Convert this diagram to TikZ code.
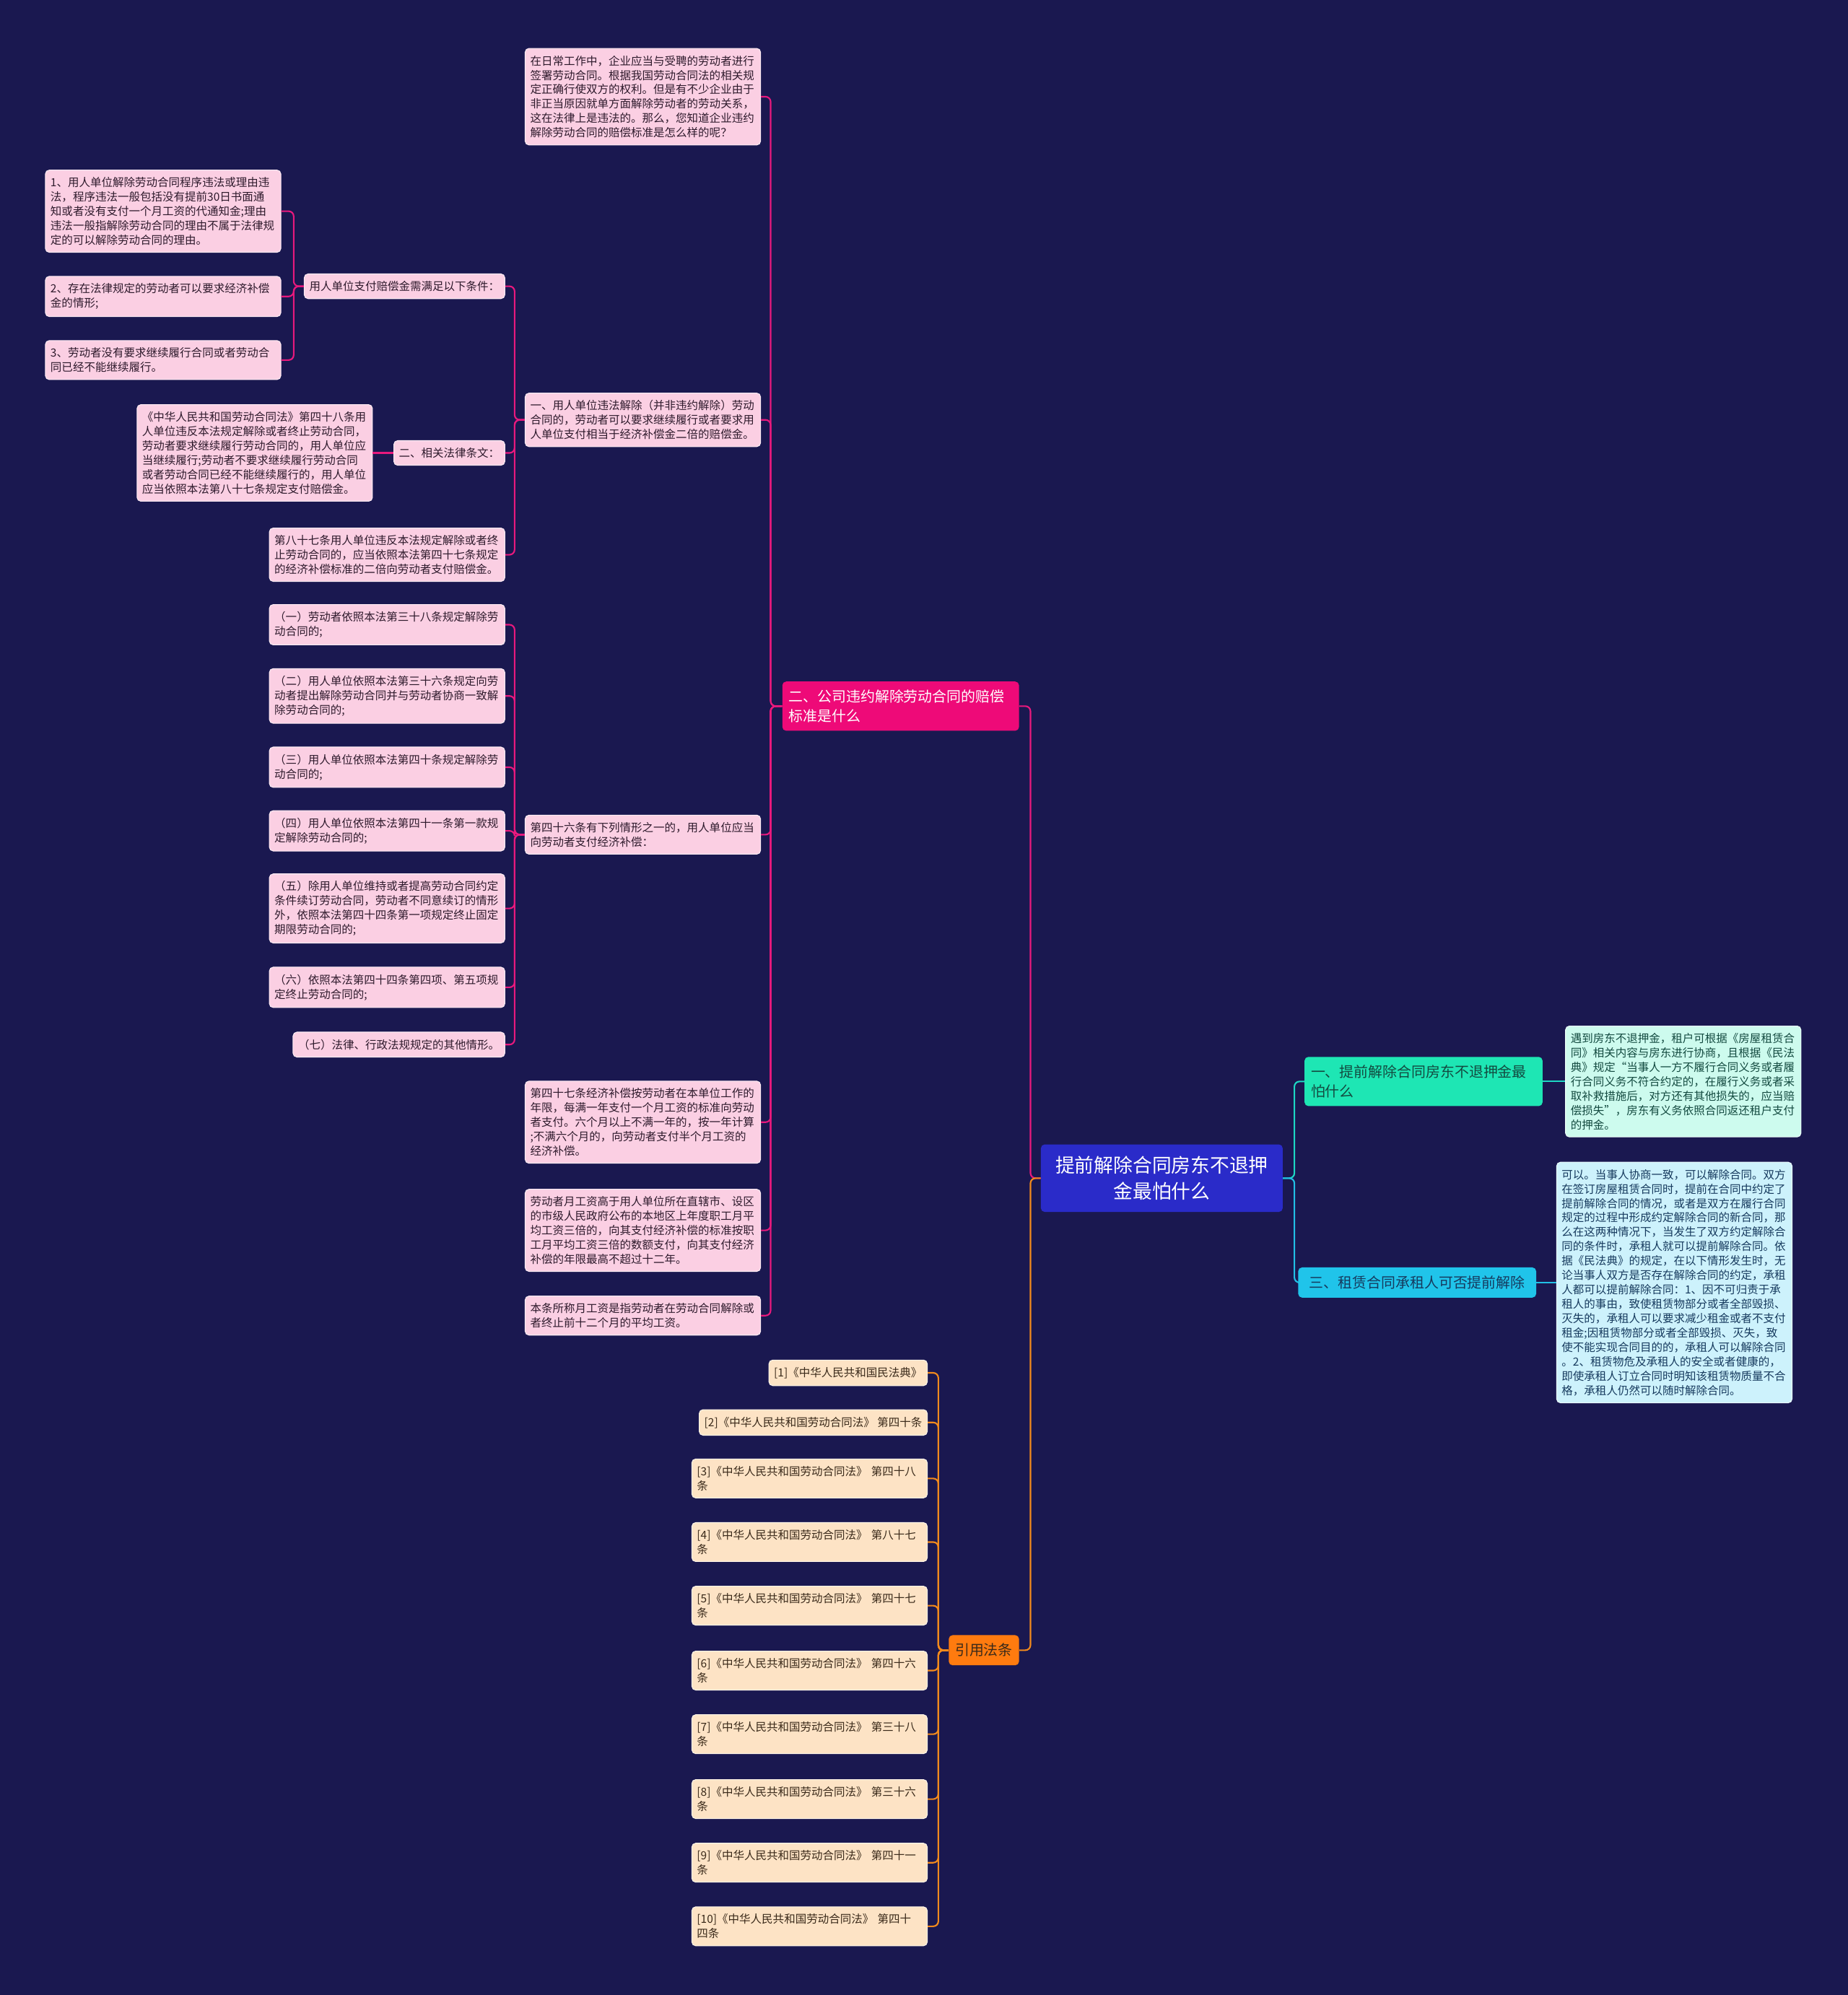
\documentclass[tikz,border=0pt]{standalone}
\usepackage{fontspec}
\setmainfont{Noto Sans CJK SC}
\usepackage{tikz}
\usetikzlibrary{calc}
\definecolor{mmNavy}{HTML}{1A1850}
\definecolor{mmRoot}{HTML}{2A2BC9}
\definecolor{mmPink}{HTML}{EE0A78}
\definecolor{mmPinkLn}{HTML}{E8197D}
\definecolor{mmPinkLeaf}{HTML}{FBCFE3}
\definecolor{mmPinkText}{HTML}{2E1A2C}
\definecolor{mmTeal}{HTML}{1EE6B4}
\definecolor{mmTealLn}{HTML}{1DD8C4}
\definecolor{mmTealLeaf}{HTML}{CDFBEE}
\definecolor{mmTealText}{HTML}{134A40}
\definecolor{mmCyan}{HTML}{20C4EA}
\definecolor{mmCyanLn}{HTML}{22C0E6}
\definecolor{mmCyanLeaf}{HTML}{CDF2FC}
\definecolor{mmCyanText}{HTML}{163A5E}
\definecolor{mmOrange}{HTML}{FF7B0F}
\definecolor{mmOrangeLn}{HTML}{F28A1C}
\definecolor{mmPeach}{HTML}{FDE3C5}
\definecolor{mmPeachText}{HTML}{3A2A1A}

\tikzset{
  box/.style={rounded corners=3pt, align=left, inner xsep=4pt, inner ysep=5.6pt,
              font=\fontsize{8.8}{11.3}\selectfont},
  wide/.style={text width=177pt},
  pinkleaf/.style={box, fill=mmPinkLeaf, draw=white!60!mmPinkLeaf, line width=0.6pt, text=mmPinkText},
  tealleaf/.style={box, fill=mmTealLeaf, draw=white!60!mmTealLeaf, line width=0.6pt, text=mmTealText},
  cyanleaf/.style={box, fill=mmCyanLeaf, draw=white!60!mmCyanLeaf, line width=0.6pt, text=mmCyanText},
  citeleaf/.style={box, fill=mmPeach, draw=white!60!mmPeach, line width=0.6pt, text=mmPeachText},
  topic/.style={rounded corners=3pt, align=left, inner xsep=5pt, inner ysep=6.6pt,
                font=\fontsize{11.3}{15}\selectfont},
  pinkln/.style={draw=mmPinkLn, line width=1.2pt, rounded corners=4pt},
  tealln/.style={draw=mmTealLn, line width=1.2pt, rounded corners=4pt},
  cyanln/.style={draw=mmCyanLn, line width=1.2pt, rounded corners=4pt},
  orangeln/.style={draw=mmOrangeLn, line width=1.2pt, rounded corners=4pt}
}

\begin{document}
\begin{tikzpicture}[x=1pt, y=-1pt]
  % 背景
  \fill[mmNavy] (0,0) rectangle (1452,1568);
  % 根节点
  \node[rounded corners=3pt, fill=mmRoot, text=white, align=center, minimum width=190pt,
        inner ysep=9.5pt, font=\fontsize{15.2}{20}\selectfont] (root) at (913,926)
        {提前解除合同房东不退押\\金最怕什么};
  % 一级主题
  \node[topic, fill=mmPink, text=white, text width=176pt, anchor=east] (pay) at (801,555)
        {二、公司违约解除劳动合同的赔偿\\标准是什么};
  \node[topic, fill=mmOrange, text=mmPeachText, anchor=east] (cite) at (801,1297) {引用法条};
  \node[topic, fill=mmTeal, text=mmTealText, text width=177pt, anchor=west] (deposit) at (1025,850)
        {一、提前解除合同房东不退押金最\\怕什么};
  \node[topic, fill=mmCyan, text=mmCyanText, minimum width=187pt, align=center, anchor=west] (early) at (1020,1008)
        {三、租赁合同承租人可否提前解除};
  % 右侧叶子
  \node[tealleaf, wide, anchor=west] (depnote) at (1230,850)
        {遇到房东不退押金，租户可根据《房屋租赁合\\同》相关内容与房东进行协商，且根据《民法\\典》规定“当事人一方不履行合同义务或者履\\行合同义务不符合约定的，在履行义务或者采\\取补救措施后，对方还有其他损失的，应当赔\\偿损失”，房东有义务依照合同返还租户支付\\的押金。};
  \node[cyanleaf, wide, anchor=west] (earlynote) at (1223,1008)
        {可以。当事人协商一致，可以解除合同。双方\\在签订房屋租赁合同时，提前在合同中约定了\\提前解除合同的情况，或者是双方在履行合同\\规定的过程中形成约定解除合同的新合同，那\\么在这两种情况下，当发生了双方约定解除合\\同的条件时，承租人就可以提前解除合同。依\\据《民法典》的规定，在以下情形发生时，无\\论当事人双方是否存在解除合同的约定，承租\\人都可以提前解除合同：1、因不可归责于承\\租人的事由，致使租赁物部分或者全部毁损、\\灭失的，承租人可以要求减少租金或者不支付\\租金;因租赁物部分或者全部毁损、灭失，致\\使不能实现合同目的的，承租人可以解除合同\\。2、租赁物危及承租人的安全或者健康的，\\即使承租人订立合同时明知该租赁物质量不合\\格，承租人仍然可以随时解除合同。};
  % 二级节点
  \node[pinkleaf, wide, anchor=east] (intro) at (598,76)
        {在日常工作中，企业应当与受聘的劳动者进行\\签署劳动合同。根据我国劳动合同法的相关规\\定正确行使双方的权利。但是有不少企业由于\\非正当原因就单方面解除劳动者的劳动关系，\\这在法律上是违法的。那么，您知道企业违约\\解除劳动合同的赔偿标准是怎么样的呢？};
  \node[pinkleaf, wide, anchor=east] (illegal) at (598,330)
        {一、用人单位违法解除（并非违约解除）劳动\\合同的，劳动者可以要求继续履行或者要求用\\人单位支付相当于经济补偿金二倍的赔偿金。};
  \node[pinkleaf, wide, anchor=east] (art46) at (598,656)
        {第四十六条有下列情形之一的，用人单位应当\\向劳动者支付经济补偿：};
  \node[pinkleaf, wide, anchor=east] (art47) at (598,882)
        {第四十七条经济补偿按劳动者在本单位工作的\\年限，每满一年支付一个月工资的标准向劳动\\者支付。六个月以上不满一年的，按一年计算\\;不满六个月的，向劳动者支付半个月工资的\\经济补偿。};
  \node[pinkleaf, wide, anchor=east] (wagecap) at (598,967)
        {劳动者月工资高于用人单位所在直辖市、设区\\的市级人民政府公布的本地区上年度职工月平\\均工资三倍的，向其支付经济补偿的标准按职\\工月平均工资三倍的数额支付，向其支付经济\\补偿的年限最高不超过十二年。};
  \node[pinkleaf, wide, anchor=east] (wagedef) at (598,1034)
        {本条所称月工资是指劳动者在劳动合同解除或\\者终止前十二个月的平均工资。};
  % 三级节点
  \node[pinkleaf, anchor=east] (cond) at (397,225) {用人单位支付赔偿金需满足以下条件：};
  \node[pinkleaf, anchor=east] (lawhd) at (397,356) {二、相关法律条文：};
  \node[pinkleaf, wide, anchor=east] (art87) at (397,436)
        {第八十七条用人单位违反本法规定解除或者终\\止劳动合同的，应当依照本法第四十七条规定\\的经济补偿标准的二倍向劳动者支付赔偿金。};
  \node[pinkleaf, wide, anchor=east] (cond1) at (221,166)
        {1、用人单位解除劳动合同程序违法或理由违\\法，程序违法一般包括没有提前30日书面通\\知或者没有支付一个月工资的代通知金;理由\\违法一般指解除劳动合同的理由不属于法律规\\定的可以解除劳动合同的理由。};
  \node[pinkleaf, wide, anchor=east] (cond2) at (221,233)
        {2、存在法律规定的劳动者可以要求经济补偿\\金的情形;};
  \node[pinkleaf, wide, anchor=east] (cond3) at (221,283)
        {3、劳动者没有要求继续履行合同或者劳动合\\同已经不能继续履行。};
  \node[pinkleaf, wide, anchor=east] (art48) at (293,356)
        {《中华人民共和国劳动合同法》第四十八条用\\人单位违反本法规定解除或者终止劳动合同，\\劳动者要求继续履行劳动合同的，用人单位应\\当继续履行;劳动者不要求继续履行劳动合同\\或者劳动合同已经不能继续履行的，用人单位\\应当依照本法第八十七条规定支付赔偿金。};
  \node[pinkleaf, wide, anchor=east] (case1) at (397,491)
        {（一）劳动者依照本法第三十八条规定解除劳\\动合同的;};
  \node[pinkleaf, wide, anchor=east] (case2) at (397,547)
        {（二）用人单位依照本法第三十六条规定向劳\\动者提出解除劳动合同并与劳动者协商一致解\\除劳动合同的;};
  \node[pinkleaf, wide, anchor=east] (case3) at (397,603)
        {（三）用人单位依照本法第四十条规定解除劳\\动合同的;};
  \node[pinkleaf, wide, anchor=east] (case4) at (397,653)
        {（四）用人单位依照本法第四十一条第一款规\\定解除劳动合同的;};
  \node[pinkleaf, wide, anchor=east] (case5) at (397,714)
        {（五）除用人单位维持或者提高劳动合同约定\\条件续订劳动合同，劳动者不同意续订的情形\\外，依照本法第四十四条第一项规定终止固定\\期限劳动合同的;};
  \node[pinkleaf, wide, anchor=east] (case6) at (397,776)
        {（六）依照本法第四十四条第四项、第五项规\\定终止劳动合同的;};
  \node[pinkleaf, anchor=east] (case7) at (397,821) {（七）法律、行政法规规定的其他情形。};
  % 引用法条
  \node[citeleaf, anchor=east] (ref1) at (729,1079) {[1]《中华人民共和国民法典》};
  \node[citeleaf, anchor=east] (ref2) at (729,1118) {[2]《中华人民共和国劳动合同法》 第四十条};
  \node[citeleaf, wide, anchor=east] (ref3) at (729,1162) {[3]《中华人民共和国劳动合同法》 第四十八\\条};
  \node[citeleaf, wide, anchor=east] (ref4) at (729,1212) {[4]《中华人民共和国劳动合同法》 第八十七\\条};
  \node[citeleaf, wide, anchor=east] (ref5) at (729,1262) {[5]《中华人民共和国劳动合同法》 第四十七\\条};
  \node[citeleaf, wide, anchor=east] (ref6) at (729,1313) {[6]《中华人民共和国劳动合同法》 第四十六\\条};
  \node[citeleaf, wide, anchor=east] (ref7) at (729,1363) {[7]《中华人民共和国劳动合同法》 第三十八\\条};
  \node[citeleaf, wide, anchor=east] (ref8) at (729,1414) {[8]《中华人民共和国劳动合同法》 第三十六\\条};
  \node[citeleaf, wide, anchor=east] (ref9) at (729,1464) {[9]《中华人民共和国劳动合同法》 第四十一\\条};
  \node[citeleaf, wide, anchor=east] (ref10) at (729,1514) {[10]《中华人民共和国劳动合同法》 第四十\\四条};
  % 连线：根节点
  \draw[pinkln] (root.west) -- ++(-8,0) |- (pay.east);
  \draw[orangeln] (root.west) -- ++(-8,0) |- (cite.east);
  \draw[tealln] (root.east) -- ++(9,0) |- (deposit.west);
  \draw[cyanln] (root.east) -- ++(9,0) |- (early.west);
  \draw[tealln] (deposit.east) -- (depnote.west);
  \draw[cyanln] (early.east) -- (earlynote.west);
  % 连线：赔偿标准
  \foreach \n in {intro,illegal,art46,art47,wagecap,wagedef}
    \draw[pinkln] (pay.west) -- ++(-9,0) |- (\n.east);
  \foreach \n in {cond,lawhd,art87}
    \draw[pinkln] (illegal.west) -- ++(-8,0) |- (\n.east);
  \foreach \n in {cond1,cond2,cond3}
    \draw[pinkln] (cond.west) -- ++(-8,0) |- (\n.east);
  \draw[pinkln] (lawhd.west) -- (art48.east);
  \foreach \n in {case1,case2,case3,case4,case5,case6,case7}
    \draw[pinkln] (art46.west) -- ++(-8,0) |- (\n.east);
  % 连线：引用法条
  \foreach \n in {ref1,ref2,ref3,ref4,ref5,ref6,ref7,ref8,ref9,ref10}
    \draw[orangeln] (cite.west) -- ++(-8,0) |- (\n.east);
\end{tikzpicture}
\end{document}
